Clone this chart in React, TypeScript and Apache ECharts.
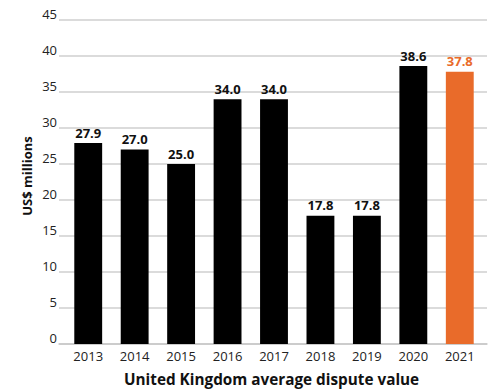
import React, { useEffect, useRef } from "react";
import * as echarts from "echarts";

const categories = ["2013", "2014", "2015", "2016", "2017", "2018", "2019", "2020", "2021"];
const values = [27.9, 27.0, 25.0, 34.0, 34.0, 17.8, 17.8, 38.6, 37.8];
const highlightIndex = 8;
const yMin = 0;
const yMax = 45;
const yStep = 5;

const FONT = "'Open Sans', 'Noto Sans', sans-serif";
const ORANGE = "#E96B2A";

export default function App() {
  const ref = useRef<HTMLDivElement>(null);
  useEffect(() => {
    if (!ref.current) return;
    const chart = echarts.init(ref.current, null, { renderer: "svg" });
    chart.setOption({
      animation: false,
      backgroundColor: "#fff",
      grid: [
        { left: 59, right: 10, top: 20, bottom: 47 },
        { left: 65, right: 14, top: 20, bottom: 47 },
      ],
      xAxis: [
        {
          gridIndex: 0,
          type: "category",
          data: categories,
          axisLine: { show: true, lineStyle: { color: "#c8c8c8", width: 1.5 } },
          axisTick: { show: false },
          axisLabel: { show: false },
        },
        {
          gridIndex: 1,
          type: "category",
          data: categories,
          axisLine: { show: false },
          axisTick: { show: false },
          axisLabel: { color: "#222", fontFamily: FONT, fontSize: 13, margin: 5 },
        },
      ],
      yAxis: [
        {
          gridIndex: 0,
          type: "value",
          min: yMin,
          max: yMax,
          interval: yStep,
          axisLine: { show: false },
          axisTick: { show: false },
          splitLine: { lineStyle: { color: "#cfcfcf", width: 1.5 } },
          axisLabel: {
            color: "#222",
            fontFamily: FONT,
            fontSize: 13,
            margin: 2,
            verticalAlign: "bottom",
          },
        },
        {
          gridIndex: 1,
          type: "value",
          min: yMin,
          max: yMax,
          interval: yStep,
          show: false,
          splitLine: { show: false },
        },
      ],
      series: [
        {
          type: "bar",
          xAxisIndex: 1,
          yAxisIndex: 1,
          barWidth: "60%",
          data: values.map((v, i) => ({
            value: v,
            itemStyle: { color: i === highlightIndex ? ORANGE : "#000" },
            label: { color: i === highlightIndex ? ORANGE : "#111" },
          })),
          label: {
            show: true,
            position: "top",
            distance: 4,
            fontFamily: FONT,
            fontSize: 13,
            fontWeight: "bold",
            formatter: (p: any) => Number(p.value).toFixed(1),
          },
        },
      ],
      graphic: [
        {
          type: "text",
          x: 27,
          y: 176,
          rotation: Math.PI / 2,
          style: {
            text: "US$ millions",
            fill: "#111",
            font: `bold 13px ${FONT}`,
            align: "center",
            verticalAlign: "middle",
          },
        },
        {
          type: "text",
          left: 124,
          top: 371,
          style: {
            text: "United Kingdom average dispute value",
            fill: "#111",
            font: `bold 15.3px ${FONT}`,
          },
        },
      ],
    });
    return () => chart.dispose();
  }, []);
  return <div ref={ref} style={{ width: 497, height: 391, position: "absolute", left: 0, top: 0 }} />;
}
